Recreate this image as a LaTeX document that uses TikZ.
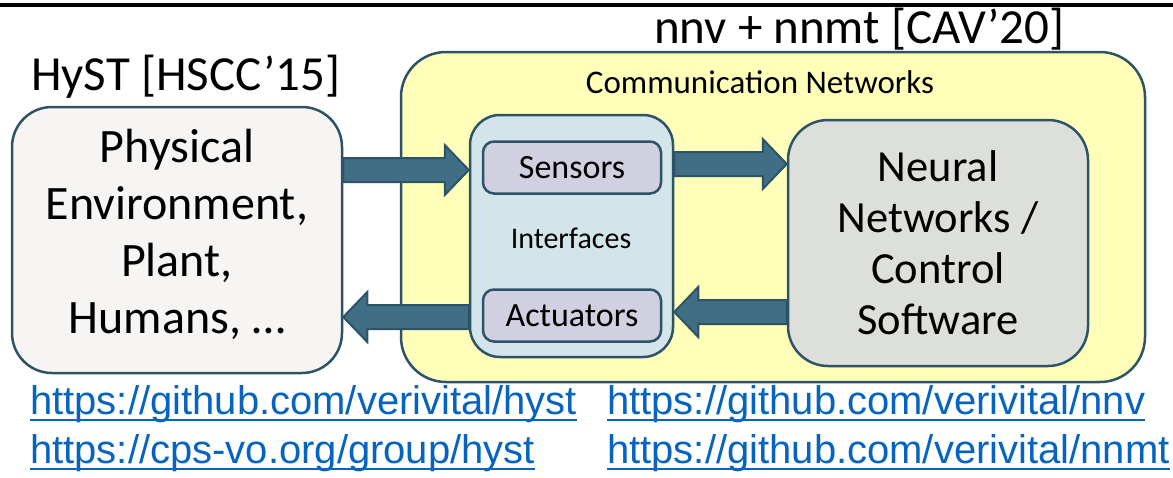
\documentclass[tikz,border=0pt]{standalone}
\usepackage{fontspec}
\setmainfont{Carlito}
\newfontfamily\linkfont{Liberation Sans}
\usetikzlibrary{calc}
\definecolor{edge}{HTML}{2E5366}
\definecolor{arrowfill}{HTML}{406E85}
\definecolor{yel}{HTML}{FFFFBA}
\definecolor{physfill}{HTML}{F6F5F3}
\definecolor{ifacefill}{HTML}{D3E4EB}
\definecolor{sensfill}{HTML}{D0D0E0}
\definecolor{nnfill}{HTML}{DCDFDA}
\definecolor{linkblue}{HTML}{0563C1}
\pgfdeclarelayer{back}
\pgfdeclarelayer{mid}
\pgfsetlayers{back,mid,main}
\newcommand\rarrow[3]{\draw[fat] ($(#1.east|-0,#3)+(0,-12)$) -- ($(#2.west|-0,#3)+(-24,-12)$) -- ($(#2.west|-0,#3)+(-24,-25)$) -- (#2.west|-0,#3) -- ($(#2.west|-0,#3)+(-24,25)$) -- ($(#2.west|-0,#3)+(-24,12)$) -- ($(#1.east|-0,#3)+(0,12)$) -- cycle;}
\newcommand\larrow[3]{\draw[fat] ($(#1.west|-0,#3)+(0,-12)$) -- ($(#2.east|-0,#3)+(24,-12)$) -- ($(#2.east|-0,#3)+(24,-25)$) -- (#2.east|-0,#3) -- ($(#2.east|-0,#3)+(24,25)$) -- ($(#2.east|-0,#3)+(24,12)$) -- ($(#1.west|-0,#3)+(0,12)$) -- cycle;}
\begin{document}
\begin{tikzpicture}[x=1pt,y=-1pt,
  box/.style={draw=edge, line width=2.5pt, rounded corners=#1, inner sep=0pt, align=center},
  fat/.style={draw=edge, fill=arrowfill, line width=2pt, line join=miter},
  link/.style={text=linkblue, font=\linkfont\fontsize{40}{40}\selectfont, anchor=base west, inner sep=0pt},
  uline/.style={draw=linkblue, line width=2.2pt},
  title/.style={font=\fontsize{49}{49}\selectfont, inner sep=0pt, anchor=base west}]
\useasboundingbox (0,0) rectangle (1173,477);
\draw[line width=4pt] (0,5) -- (1173,5);
\begin{pgfonlayer}{back}
\node[box=45pt, fill=yel, minimum width=744pt, minimum height=330pt] (net) at (773,217) {};
\end{pgfonlayer}
\node[font=\fontsize{33}{33}\selectfont, inner sep=0pt, anchor=base] (netlbl) at (760,93) {Communication Networks};
\node[title] (hyst) at (31,90) {HyST [HSCC’15]};
\node[title] (nnv) at (654,43) {nnv + nnmt [CAV’20]};
\node[box=40pt, fill=physfill, minimum width=330pt, minimum height=266pt] (phys) at (177,240) {};
\node[align=center, font=\fontsize{48}{57}\selectfont] (physlbl) at (177,234) {Physical\\Environment,\\Plant,\\Humans, …};
\node[box=30pt, fill=ifacefill, minimum width=203pt, minimum height=242pt] (iface) at (571.5,236) {};
\node[font=\fontsize{30}{30}\selectfont] (ifacelbl) at (571,238) {Interfaces};
\node[box=11pt, fill=sensfill, minimum width=178pt, minimum height=52pt, font=\fontsize{34}{34}\selectfont] (sens) at (572,167.5) {Sensors};
\node[box=11pt, fill=sensfill, minimum width=178pt, minimum height=52pt, font=\fontsize{34}{34}\selectfont] (act) at (572,315.5) {Actuators};
\node[box=40pt, fill=nnfill, minimum width=300pt, minimum height=246pt, font=\fontsize{44.5}{51}\selectfont] (nn) at (938,243) {Neural\\Networks /\\Control\\Software};
\begin{pgfonlayer}{mid}
\rarrow{phys}{iface}{170}
\larrow{iface}{phys}{317}
\rarrow{iface}{nn}{164}
\larrow{nn}{iface}{312}
\end{pgfonlayer}
\node[link] (l1) at (30,414) {https://github.com/verivital/hyst};
\node[link] (l2) at (30,463) {https://cps-vo.org/group/hyst};
\node[link] (l3) at (607,414) {https://github.com/verivital/nnv};
\node[link] (l4) at (607,463) {https://github.com/verivital/nnmt};
\foreach \n in {l1,l2,l3,l4}
  \draw[uline] ([yshift=-6pt]\n.base west) -- ([yshift=-6pt]\n.base east);
\end{tikzpicture}
\end{document}
